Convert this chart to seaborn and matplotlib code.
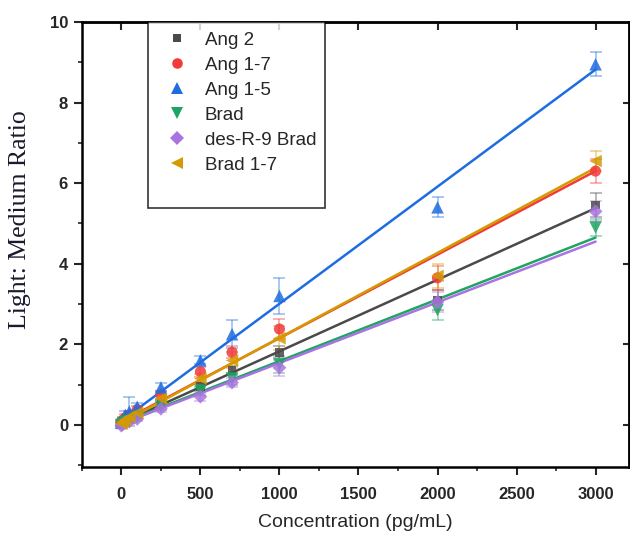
import numpy as np
import pandas as pd
import matplotlib
matplotlib.use('Agg')
import matplotlib.pyplot as plt
from matplotlib.lines import Line2D
import seaborn as sns

# concentrations (pg/mL)
conc = [0, 10, 25, 50, 100, 250, 500, 700, 1000, 2000, 3000]

series_names = ['Ang 2', 'Ang 1-7', 'Ang 1-5', 'Brad', 'des-R-9 Brad', 'Brad 1-7']

ang2 = [0.02, 0.05, 0.10, 0.15, 0.25, 0.55, 0.95, 1.35, 1.80, 3.10, 5.45]
ang17 = [0.08, 0.12, 0.18, 0.25, 0.38, 0.75, 1.32, 1.80, 2.38, 3.65, 6.30]
ang15 = [0.05, 0.12, 0.25, 0.33, 0.45, 0.93, 1.60, 2.25, 3.20, 5.40, 8.95]
brad = [0.00, 0.03, 0.07, 0.10, 0.18, 0.45, 0.85, 1.15, 1.50, 2.85, 4.90]
desr9 = [-0.02, 0.02, 0.05, 0.08, 0.15, 0.40, 0.70, 1.05, 1.42, 3.05, 5.30]
brad17 = [0.03, 0.08, 0.13, 0.20, 0.30, 0.65, 1.15, 1.60, 2.15, 3.70, 6.55]

ang2_err = [0.05, 0.05, 0.08, 0.10, 0.08, 0.08, 0.10, 0.12, 0.15, 0.25, 0.30]
ang17_err = [0.05, 0.05, 0.08, 0.10, 0.08, 0.10, 0.12, 0.15, 0.25, 0.30, 0.30]
ang15_err = [0.05, 0.08, 0.10, 0.35, 0.10, 0.10, 0.10, 0.35, 0.45, 0.25, 0.30]
brad_err = [0.05, 0.05, 0.05, 0.05, 0.05, 0.08, 0.10, 0.15, 0.20, 0.25, 0.20]
desr9_err = [0.05, 0.05, 0.05, 0.05, 0.05, 0.08, 0.10, 0.12, 0.20, 0.25, 0.25]
brad17_err = [0.05, 0.05, 0.05, 0.08, 0.08, 0.10, 0.12, 0.20, 0.30, 0.30, 0.25]

# linear fit lines: value at 0 and at 3000 pg/mL
fit_x = [0, 3000]
fit_start = [0.05, 0.08, 0.10, 0.05, 0.03, 0.05]
fit_end = [5.38, 6.30, 8.82, 4.65, 4.55, 6.38]

values = [ang2, ang17, ang15, brad, desr9, brad17]
errors = [ang2_err, ang17_err, ang15_err, brad_err, desr9_err, brad17_err]
colors = ['#4a4a4a', '#f23a3a', '#1e6de0', '#1fa463', '#a874e0', '#d49a00']
markers = ['s', 'o', '^', 'v', 'D', '<']
sizes = [6, 8, 9, 9, 7, 9]

sns.set_style('ticks')
plt.rcParams['font.family'] = ['Liberation Sans', 'DejaVu Sans']

fig = plt.figure(figsize=(6.3, 5.37), dpi=100)
ax = fig.add_axes([0.130, 0.130, 0.868, 0.829])

handles = []
for i, name in enumerate(series_names):
    c = colors[i]
    fit_df = pd.DataFrame({'x': fit_x, 'y': [fit_start[i], fit_end[i]]})
    sns.lineplot(data=fit_df, x='x', y='y', ax=ax, color=c, lw=1.8)
    ax.errorbar(conc, values[i], yerr=errors[i], fmt='none', ecolor=c, alpha=0.45,
                capsize=4, elinewidth=1.2, capthick=1.2)
    pts = pd.DataFrame({'x': conc, 'y': values[i]})
    sns.scatterplot(data=pts, x='x', y='y', ax=ax, marker=markers[i],
                    s=sizes[i] ** 2, color=c, alpha=0.85, edgecolor='none',
                    zorder=3)
    handles.append(Line2D([], [], ls='none', marker=markers[i], color=c,
                          markersize=sizes[i] * 0.95, markeredgewidth=0,
                          label=name))
# blank row to keep the boxed legend as tall as in the figure
handles.append(Line2D([], [], ls='none', label=' '))

ax.set_xlim(-250, 3210)
ax.set_ylim(-1.05, 10)
ax.set_xticks([0, 500, 1000, 1500, 2000, 2500, 3000])
ax.set_xticks(np.arange(-250, 3200, 500), minor=True)
ax.set_yticks([0, 2, 4, 6, 8, 10])
ax.set_yticks([-1, 1, 3, 5, 7, 9], minor=True)

ax.tick_params(axis='both', which='major', labelsize=12, width=1.5, length=6,
               direction='out', pad=8)
ax.tick_params(axis='both', which='minor', width=1.2, length=3, direction='out')
ax.tick_params(axis='y', pad=4)
for lab in ax.get_xticklabels() + ax.get_yticklabels():
    lab.set_fontweight('bold')

# inward ticks on the top and right
sec_x = ax.secondary_xaxis('top')
sec_x.set_xticks([0, 500, 1000, 1500, 2000, 2500, 3000])
sec_x.tick_params(direction='in', length=6, width=1.5, labeltop=False)
sec_y = ax.secondary_yaxis('right')
sec_y.set_yticks([0, 2, 4, 6, 8])
sec_y.tick_params(direction='in', length=4, width=1.5, labelright=False)

for sp in ax.spines.values():
    sp.set_linewidth(1.8)
    sp.set_color('black')
sec_x.spines['top'].set_linewidth(1.8)
sec_y.spines['right'].set_linewidth(1.8)

ax.set_xlabel('Concentration (pg/mL)', fontsize=14, labelpad=9)
ax.set_ylabel('Light: Medium Ratio', fontsize=18.5, family='Liberation Serif',
              color='#1a1a2e')
ax.yaxis.set_label_coords(-0.093, 0.555)

leg = ax.legend(handles=handles, loc='upper left', bbox_to_anchor=(0.12, 1.0),
                borderaxespad=0, fontsize=13.5, frameon=True, fancybox=False,
                edgecolor='black', handletextpad=0.44, labelspacing=0.42,
                borderpad=0.5, handlelength=2.1)
leg.get_frame().set_linewidth(1.2)

fig.savefig('out.png', dpi=100)
